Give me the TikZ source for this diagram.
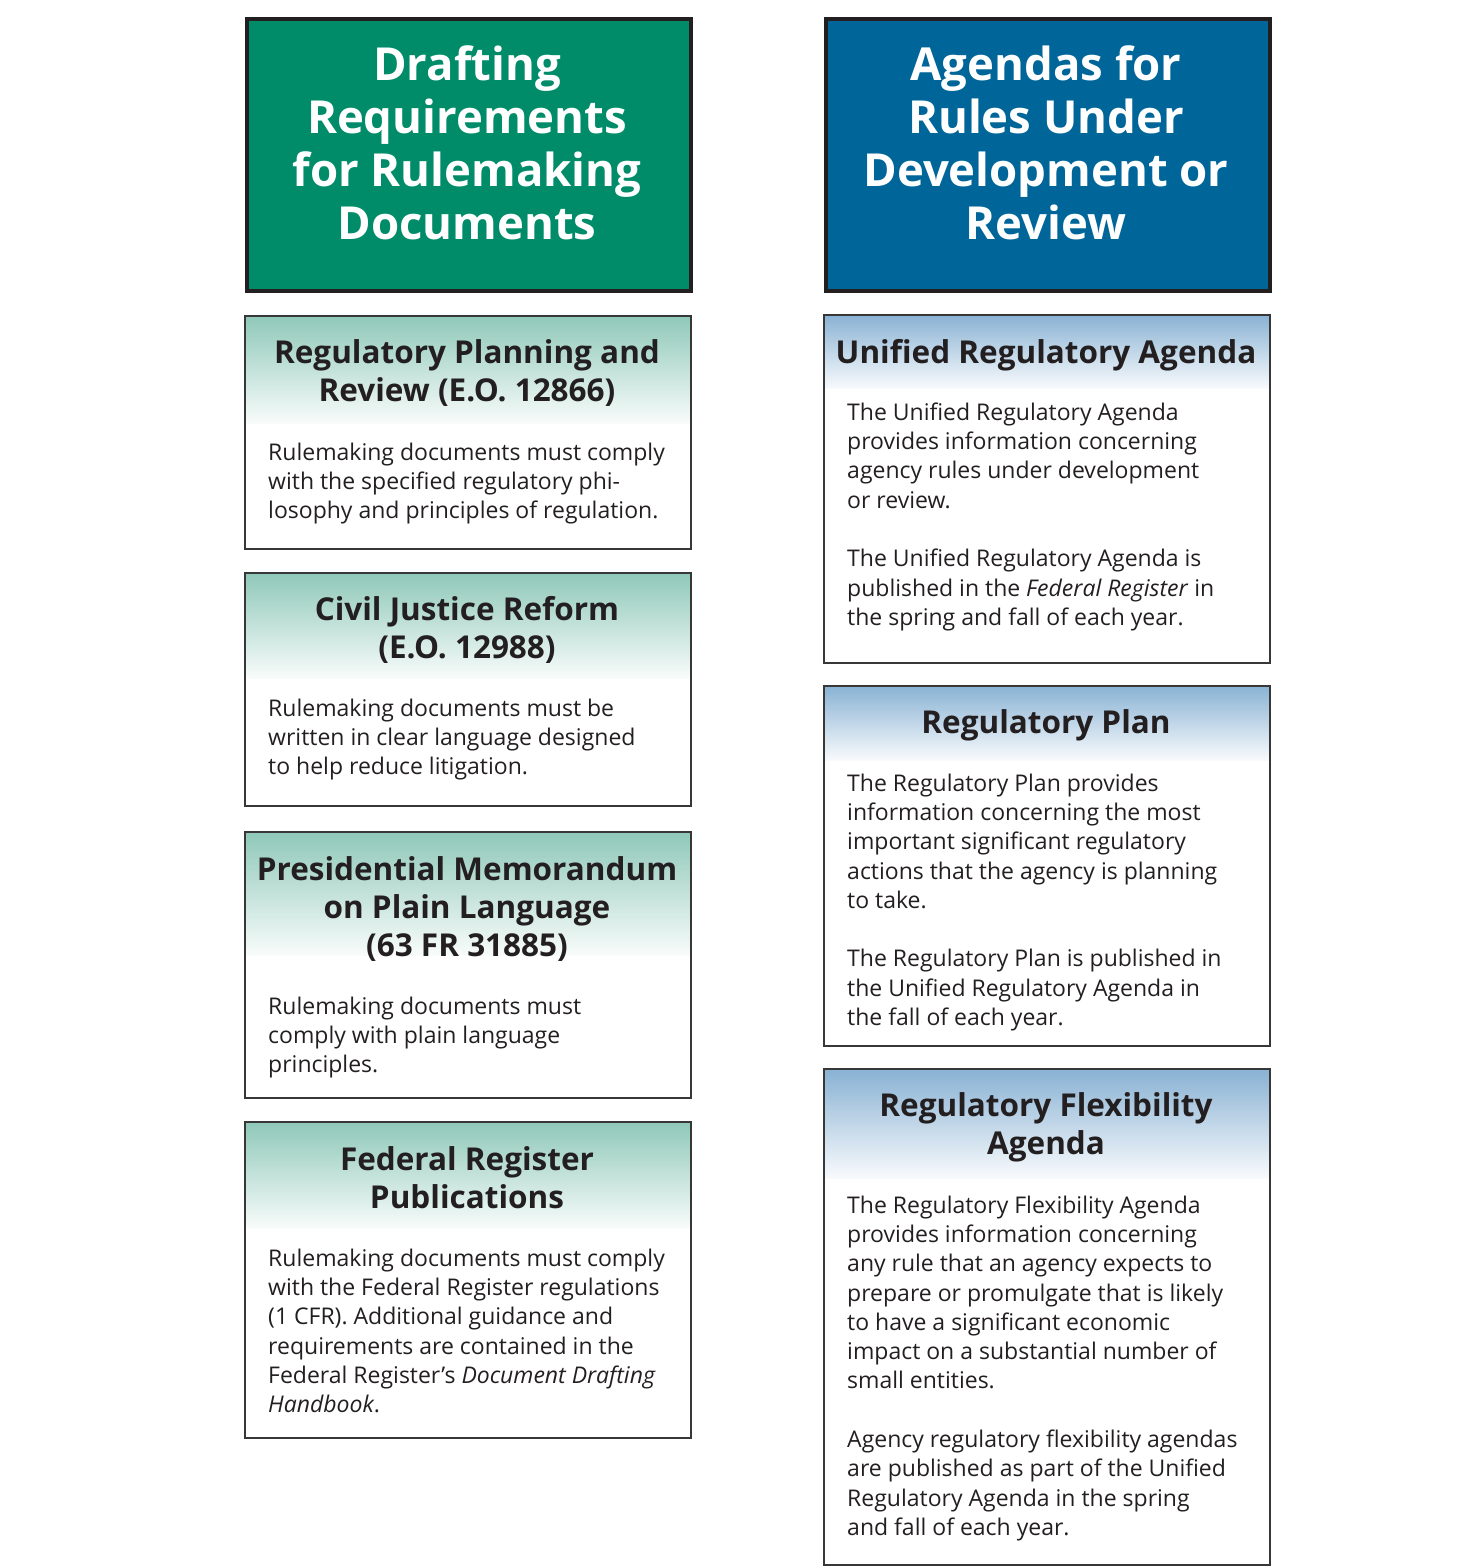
\documentclass[tikz,border=0pt]{standalone}
\usepackage{fontspec}
\setmainfont{Open Sans}
\usetikzlibrary{positioning}
\definecolor{title_green}{RGB}{0,140,105}
\definecolor{title_blue}{RGB}{0,102,153}
\definecolor{band_green}{RGB}{142,200,184}
\definecolor{band_blue}{RGB}{136,177,211}
\definecolor{ink}{RGB}{35,31,32}
\definecolor{frame_gray}{RGB}{55,55,55}

\begin{document}
\begin{tikzpicture}[x=1pt, y=-1pt,
                    titlebox/.style={draw=ink, line width=4pt, minimum width=444, minimum height=272, anchor=north west, inner sep=0pt},
                    titletext/.style={white, font=\fontsize{45.5}{53}\selectfont\bfseries, align=center, anchor=north, yshift=34.6pt, inner sep=0pt},
                    card/.style={draw=frame_gray, line width=1.5pt, minimum width=446, anchor=north west, inner sep=0pt},
                    cardhead/.style={ink, font=\fontsize{31.5}{38}\selectfont\bfseries, align=center, anchor=north, yshift=24pt, inner sep=0pt},
                    cardtext/.style={ink, font=\fontsize{23}{29.3}\selectfont, align=left, anchor=north west, yshift=17.5pt, inner sep=0pt},
                    greenband/.style={top color=band_green, bottom color=band_green!6},
                    blueband/.style={top color=band_blue, bottom color=band_blue!6}]

  \useasboundingbox (0,0) rectangle (1477,1568);

  % Column titles
  \node[titlebox, fill=title_green] (draft) at (245,17) {};
  \node[titletext] (drafttitle) at (467,80) {Drafting\\Requirements\\for Rulemaking\\Documents};
  \node[titlebox, fill=title_blue] (agenda) at (824,17) {};
  \node[titletext] (agendatitle) at (1046,80) {Agendas for\\Rules Under\\Development or\\Review};

  % Left column cards
  \shade[greenband] (244,315) rectangle (690,423);
  \node[card, minimum height=233] (l1) at (244,315) {};
  \node[cardhead] (l1head) at (467,363) {Regulatory Planning and\\Review (E.O. 12866)};
  \node[cardtext] (l1text) at (268,460) {Rulemaking documents must comply\\with the specified regulatory phi-\\losophy and principles of regulation.};

  \shade[greenband] (244,572) rectangle (690,678);
  \node[card, minimum height=233] (l2) at (244,572) {};
  \node[cardhead] (l2head) at (467,620) {Civil Justice Reform\\(E.O. 12988)};
  \node[cardtext] (l2text) at (268,716) {Rulemaking documents must be\\written in clear language designed\\to help reduce litigation.};

  \shade[greenband] (244,831) rectangle (690,955);
  \node[card, minimum height=266] (l3) at (244,831) {};
  \node[cardhead] (l3head) at (467,880) {Presidential Memorandum\\on Plain Language\\(63 FR 31885)};
  \node[cardtext] (l3text) at (268,1014) {Rulemaking documents must\\comply with plain language\\principles.};

  \shade[greenband] (244,1121) rectangle (690,1228);
  \node[card, minimum height=316] (l4) at (244,1121) {};
  \node[cardhead] (l4head) at (467,1170) {Federal Register\\Publications};
  \node[cardtext] (l4text) at (268,1266) {Rulemaking documents must comply\\with the Federal Register regulations\\(1 CFR). Additional guidance and\\requirements are contained in the\\Federal Register’s \textit{Document Drafting}\\\textit{Handbook}.};

  % Right column cards
  \shade[blueband] (823,314) rectangle (1269,388);
  \node[card, minimum height=348] (r1) at (823,314) {};
  \node[cardhead] (r1head) at (1046,363) {Unified Regulatory Agenda};
  \node[cardtext] (r1text) at (847,420) {The Unified Regulatory Agenda\\provides information concerning\\agency rules under development\\or review.\\[29.3pt]The Unified Regulatory Agenda is\\published in the \textit{Federal Register} in\\the spring and fall of each year.};

  \shade[blueband] (823,685) rectangle (1269,760);
  \node[card, minimum height=360] (r2) at (823,685) {};
  \node[cardhead] (r2head) at (1046,733) {Regulatory Plan};
  \node[cardtext] (r2text) at (847,791) {The Regulatory Plan provides\\information concerning the most\\important significant regulatory\\actions that the agency is planning\\to take.\\[29.3pt]The Regulatory Plan is published in\\the Unified Regulatory Agenda in\\the fall of each year.};

  \shade[blueband] (823,1068) rectangle (1269,1178);
  \node[card, minimum height=496] (r3) at (823,1068) {};
  \node[cardhead] (r3head) at (1046,1116) {Regulatory Flexibility\\Agenda};
  \node[cardtext] (r3text) at (847,1213) {The Regulatory Flexibility Agenda\\provides information concerning\\any rule that an agency expects to\\prepare or promulgate that is likely\\to have a significant economic\\impact on a substantial number of\\small entities.\\[29.3pt]Agency regulatory flexibility agendas\\are published as part of the Unified\\Regulatory Agenda in the spring\\and fall of each year.};

\end{tikzpicture}
\end{document}
